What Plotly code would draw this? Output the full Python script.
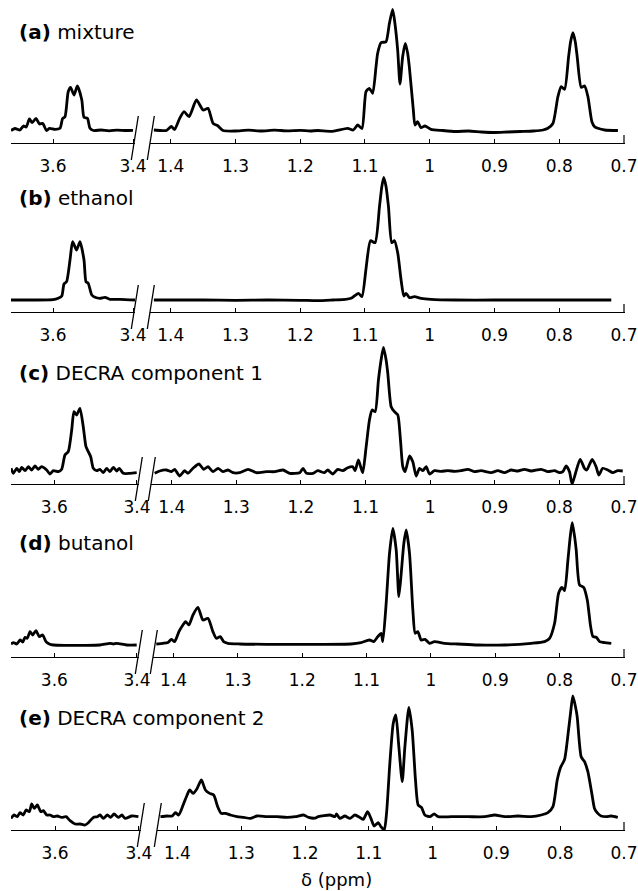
import plotly.graph_objects as go

W, H = 638, 891

# ---------------- data (chemical shift in ppm, intensity in arbitrary units, baseline = 0) -------------
a_left_ppm = [3.705, 3.695, 3.6825, 3.674, 3.667, 3.659, 3.652, 3.6425, 3.634, 3.626, 3.616, 3.609, 3.595,
              3.5825, 3.576, 3.57, 3.562, 3.556, 3.5475, 3.539, 3.528, 3.5225, 3.514, 3.5075, 3.499, 3.48,
              3.46, 3.44, 3.42, 3.40]
a_left_int = [0, 2, 0.5, 4.5, 3.5, 11.5, 7.8, 12.2, 6.5, 7.2, 0, 2.2, 1.2,
              2.2, 12, 13.8, 38.8, 43.2, 35.5, 44.5, 30.5, 13.2, 12.2, 2.2, 0, 0.5,
              -0.3, 0.3, 0, 0.2]
a_right_ppm = [1.426, 1.415, 1.4066, 1.399, 1.394, 1.386, 1.3794, 1.3717, 1.3603, 1.350, 1.3424, 1.3346,
               1.3269, 1.3192, 1.30, 1.28, 1.26, 1.24, 1.22, 1.20, 1.185, 1.173, 1.15, 1.1267, 1.118,
               1.1113, 1.1046, 1.0984, 1.0932, 1.0881, 1.0829, 1.0804, 1.0752, 1.0675, 1.0623, 1.0572,
               1.0537, 1.0495, 1.0459, 1.0418, 1.0377, 1.034, 1.0315, 1.0253, 1.0228, 1.0187, 1.0135,
               1.0074, 0.9981, 0.98, 0.96, 0.94, 0.92, 0.90, 0.88, 0.86, 0.84, 0.825, 0.8175, 0.8097,
               0.802, 0.7969, 0.7917, 0.7855, 0.7824, 0.7788, 0.7752, 0.7722, 0.766, 0.7608, 0.7556,
               0.7495, 0.7453, 0.7402, 0.7298, 0.7093]
a_right_int = [0.5, 0, 0, 4, 1, 12.4, 18.8, 13.8, 30.5, 20.5, 22.2, 7.2,
               4.5, 0, -0.5, 0.3, -0.5, 0.3, -0.3, 0.2, -0.5, 0, -0.8, 2.2, 0.5,
               5.5, 2, 38.8, 42.2, 37.2, 63.8, 77.2, 87.8, 88.8, 107, 121.2,
               107, 80.5, 46.5, 73.8, 87.2, 77, 63.8, 20.5, 5.5, 8.8, 2.8,
               4.5, 1.2, 0, -1, -0.5, -1.5, -2, -1.5, -1, -0.5, 0.5, 2.2, 7,
               33.8, 43.8, 41.2, 73.8, 88.8, 97.8, 88.8, 73.8, 43.2, 44.5, 33.8,
               8.8, 3.8, 2.2, 0.5, 0]

b_left_ppm = [3.705, 3.65, 3.60, 3.587, 3.578, 3.5725, 3.566, 3.5575, 3.551, 3.541, 3.5325, 3.5225,
              3.5175, 3.512, 3.503, 3.495, 3.4825, 3.47, 3.4575, 3.4325, 3.395]
b_left_int = [0, 0, 0.3, 1.7, 4, 16, 18.3, 40, 58.3, 50, 58.3, 40,
              18.3, 16.7, 5, 2.7, 1.7, 2.7, 0.7, 0.7, 0]
b_right_ppm = [1.426, 1.40, 1.35, 1.30, 1.25, 1.20, 1.173, 1.15, 1.13, 1.1215, 1.11, 1.1047, 1.098,
               1.0915, 1.0844, 1.0776, 1.074, 1.071, 1.0674, 1.0637, 1.0586, 1.0544, 1.0493, 1.0442,
               1.04, 1.0365, 1.0313, 1.0235, 1.0134, 0.998, 0.96, 0.90, 0.85, 0.80, 0.75, 0.7196]
b_right_int = [0, 0, 0, -0.3, 0, -0.3, -0.7, 0, 0.7, 1.7, 6.7, 3.3, 33.3,
               59.3, 57.3, 93.3, 113.3, 122.7, 113.3, 93.3, 57.3, 59.3, 46.7, 20,
               4, 6.7, 2.3, 3.3, 1.7, 0.7, 0, 0, 0, 0, 0, 0]

c_left_ppm = [3.705, 3.6994, 3.691, 3.685, 3.679, 3.671, 3.663, 3.655, 3.647, 3.639, 3.631, 3.6186,
              3.6106, 3.6026, 3.5905, 3.5822, 3.5743, 3.5663, 3.558, 3.5525, 3.546, 3.538, 3.53,
              3.5234, 3.5178, 3.512, 3.5057, 3.4975, 3.4895, 3.4815, 3.4733, 3.4653, 3.4573, 3.449,
              3.4428, 3.4331, 3.417, 3.4006]
c_left_int = [2.7, -2.3, 2.7, -0.7, 3.7, 0.3, 4.3, 1, 5, 1.7, 4.3, 1,
              -3, 0.3, -0.7, 1.7, 16, 19.3, 41, 59.3, 56, 62.7, 44.3,
              24.3, 19.3, 14.3, 2.7, 0.3, 1.7, -1.7, 2.7, -0.7, 3.7, 0,
              2.7, -2.3, -2.3, -1.7]
c_right_ppm = [1.4263, 1.4186, 1.4082, 1.4005, 1.3954, 1.3877, 1.38, 1.3748, 1.367, 1.3577, 1.3505,
               1.3438, 1.3361, 1.3283, 1.3206, 1.3128, 1.3051, 1.2947, 1.2818, 1.2689, 1.2534, 1.24,
               1.2276, 1.2173, 1.2018, 1.1967, 1.1914, 1.1812, 1.1739, 1.1636, 1.1584, 1.1507, 1.143,
               1.1352, 1.1275, 1.1197, 1.1161, 1.111, 1.1068, 1.1042, 1.099, 1.0939, 1.0898, 1.0851,
               1.08, 1.0759, 1.0722, 1.0681, 1.0655, 1.0603, 1.0552, 1.05, 1.0459, 1.0423, 1.0387,
               1.0319, 1.0268, 1.0216, 1.0164, 1.0113, 1.0061, 1.0009, 0.9932, 0.9829, 0.9726, 0.962,
               0.952, 0.9416, 0.931, 0.921, 0.9055, 0.8952, 0.8849, 0.8746, 0.8642, 0.8539, 0.8436,
               0.8281, 0.8177, 0.8074, 0.7997, 0.7946, 0.7894, 0.7843, 0.7802, 0.775, 0.7678, 0.7611,
               0.7575, 0.7492, 0.7431, 0.739, 0.7328, 0.725, 0.7173, 0.7096, 0.7019]
c_right_int = [-2.3, 0, 1, -0.7, 1.7, -5, 0.3, -2.3, 2.7, 7, 1.7,
               4.3, -0.7, 2.7, -0.7, 1, -1.7, -1.7, 1.7, -1.7, -0.7, -0.7,
               1, -2.3, -1.7, 2.7, -2.3, -2.3, 0.3, -1.7, 1, -3, 1.7,
               0.3, 3.3, 4.3, 0.3, 11, 2.7, -1.7, 24.3, 51, 61, 59.3,
               91, 111, 123.7, 111, 97.7, 64.3, 59.3, 56, 31, 4.3, -0.7,
               15, 9.3, -5, 2.7, 0.3, 4.3, -3, 0.3, -0.3, 0.3, -0.3,
               0.3, 1.7, -0.7, 0.3, -1.7, 0.3, -1.7, 1, 0, 1.7, 0,
               1.7, -0.7, 0.3, -1.7, -0.7, 5, -0.7, -13, -2.3, 11.7, 2.7,
               1, 11.7, 4.3, -4, 2.7, 1, -1.7, 0.3, 0]

d_left_ppm = [3.705, 3.699, 3.691, 3.683, 3.6767, 3.671, 3.6655, 3.659, 3.6525, 3.6445, 3.6365, 3.6282,
              3.6203, 3.6123, 3.602, 3.57, 3.53, 3.4895, 3.4653, 3.457, 3.449, 3.425, 3.4006]
d_left_int = [0.3, 1.7, 0.3, 4.3, 2.3, 7, 6, 12.7, 9.3, 13.7, 7.7, 9.3,
              2.7, 0.3, -0.7, -1, -1, -0.7, 1, 0.3, 1, -0.7, -0.7]
d_right_ppm = [1.4269, 1.4166, 1.4088, 1.4035, 1.3984, 1.3917, 1.3855, 1.3813, 1.3762, 1.3699, 1.3622,
               1.3544, 1.3466, 1.3389, 1.3336, 1.3274, 1.3222, 1.3155, 1.2973, 1.2558, 1.204, 1.176,
               1.1241, 1.1086, 1.0956, 1.0888, 1.0826, 1.0774, 1.0748, 1.0696, 1.0644, 1.0592, 1.054,
               1.0499, 1.0462, 1.0421, 1.0385, 1.0333, 1.0281, 1.0245, 1.0204, 1.0152, 1.009, 1.0022,
               0.9945, 0.979, 0.9582, 0.9271, 0.8856, 0.8441, 0.8234, 0.8156, 0.8078, 0.8016, 0.7964,
               0.7923, 0.7871, 0.7835, 0.7804, 0.7767, 0.7742, 0.769, 0.7627, 0.757, 0.7518, 0.7482,
               0.743, 0.7379, 0.7301, 0.7197]
d_right_int = [0.3, 1, 1.7, 5, 2.7, 12.7, 19.3, 22.7, 19.3, 29.3, 37,
               24.3, 26, 12.7, 6, 7.7, 2.7, 1, 0.3, 0, 0, 0,
               0.3, 1.7, 4.3, 2.7, 7.7, 11, 2.7, 41, 91, 116, 94.3,
               47.7, 71, 101, 114.3, 91, 34.3, 11, 12.7, 4.3, 5, 1,
               2.7, 1, 0.3, -0.7, -0.7, 1, 2.7, 6, 21, 51, 57,
               53.7, 84.3, 107.7, 121.7, 107.7, 94.3, 59.3, 57, 44.3, 17.7, 7.7,
               7, 2.7, 1.7, 1]

e_left_ppm = [3.705, 3.6978, 3.69, 3.6835, 3.6756, 3.6692, 3.6613, 3.6556, 3.6494, 3.6422, 3.6341,
              3.6279, 3.6198, 3.612, 3.6041, 3.5945, 3.584, 3.5737, 3.5642, 3.5523, 3.5403, 3.5284,
              3.5205, 3.5086, 3.499, 3.4926, 3.4847, 3.4752, 3.4671, 3.4592, 3.449, 3.4408, 3.4329,
              3.4169, 3.4012]
e_left_int = [-1.7, 1.7, 0, 4, 1.7, 6.7, 5, 12.7, 8.3, 11.7, 5,
              6, 1.7, 1.7, 0, 0.7, -0.7, 0, -4, -7.3, -7.3, -8.3,
              -6, -0.7, 0, 1.7, -1.7, 1.7, -0.7, 2.7, -0.7, 1.7, -1.7,
              0.7, 0]
e_right_ppm = [1.4266, 1.4161, 1.4083, 1.4031, 1.3979, 1.391, 1.3848, 1.3807, 1.3754, 1.3691, 1.3624,
               1.3561, 1.3494, 1.3431, 1.3369, 1.3315, 1.3248, 1.317, 1.3065, 1.2961, 1.2857, 1.2752,
               1.2595, 1.2438, 1.2282, 1.2152, 1.2022, 1.1944, 1.185, 1.1792, 1.1609, 1.1531, 1.1505,
               1.1453, 1.1375, 1.1296, 1.1218, 1.114, 1.1087, 1.1019, 1.0967, 1.0915, 1.0852, 1.081,
               1.0758, 1.0722, 1.067, 1.0617, 1.0576, 1.0529, 1.0476, 1.0434, 1.0372, 1.032, 1.0268,
               1.0226, 1.0174, 1.0122, 1.0043, 0.9975, 0.9913, 0.9704, 0.9443, 0.9182, 0.9026, 0.887,
               0.8661, 0.8453, 0.8296, 0.8192, 0.8113, 0.8046, 0.7994, 0.7931, 0.7869, 0.7835, 0.7801,
               0.776, 0.7733, 0.7671, 0.7618, 0.7566, 0.7504, 0.7462, 0.741, 0.7358, 0.7279, 0.7201,
               0.7097]
e_right_int = [0, 0.7, 0.7, 4, 1.7, 11.7, 21.7, 26.7, 23.3, 28.3, 36.7,
               26.7, 23.3, 21.7, 10, 3.3, 3.3, 1.7, 0, -0.7, -1.7, 0.7,
               0, 0, -0.7, 0, 1.7, -0.7, -1.5, 0, 1.7, 0, 2.7,
               -1.7, 0.7, -1.7, 1.7, -0.7, -2.7, 5, -1.7, -9.3, -6, -10,
               -13.3, 3.3, 53.3, 93.3, 101.7, 70, 35, 70, 109.3, 86.7, 36.7,
               11.7, 9.3, 1.7, 0, 2.7, 0, 0, 0, 0, 1.7, 0,
               0.7, 0, 1.7, 4, 10, 36.7, 49.3, 57.3, 86.7, 105, 120.7,
               110, 100, 60, 55, 45, 23.3, 8.3, 3.3, 0.7, 0, 0.7,
               -0.7]

panel_titles = ["<b>(a)</b> mixture", "<b>(b)</b> ethanol", "<b>(c)</b> DECRA component 1",
                "<b>(d)</b> butanol", "<b>(e)</b> DECRA component 2"]
left_tickvals = [3.6, 3.4]
left_ticktext = ["3.6", "3.4"]
right_tickvals = [1.4, 1.3, 1.2, 1.1, 1.0, 0.9, 0.8, 0.7]
right_ticktext = ["1.4", "1.3", "1.2", "1.1", "1", "0.9", "0.8", "0.7"]
x_title = "δ (ppm)"

# ---------------- layout geometry (window pixels) ----------------
axis_y = [143, 312, 484, 657, 830]
base_y = [130.5, 300, 471, 644.3, 816.7]
title_y = [32, 198, 373, 543, 718]
left_end = [135, 135, 139, 139, 141]
right_start = [150, 150, 151, 153, 157]
left_start = 11
right_end = 624.6
panel_h = 140
LEFT_RANGE = [3.705, 3.395]
RIGHT_RANGE = [1.432, 0.699]

FONT = "DejaVu Sans"

panels = [
    (a_left_ppm, a_left_int, a_right_ppm, a_right_int),
    (b_left_ppm, b_left_int, b_right_ppm, b_right_int),
    (c_left_ppm, c_left_int, c_right_ppm, c_right_int),
    (d_left_ppm, d_left_int, d_right_ppm, d_right_int),
    (e_left_ppm, e_left_int, e_right_ppm, e_right_int),
]


def px(x):
    return x / W


def py(y):
    return min(1.0, max(0.0, 1 - y / H))


fig = go.Figure()
layout = {}
shapes = []
annotations = []
line_style = dict(color="black", width=2.8, shape="spline", smoothing=0.6)

for i, (lp, li, rp, ri) in enumerate(panels):
    nl, nr, ny = 2 * i + 1, 2 * i + 2, i + 1
    xl = "x" if nl == 1 else f"x{nl}"
    xr = f"x{nr}"
    yy = "y" if ny == 1 else f"y{ny}"
    fig.add_trace(go.Scatter(x=lp, y=li, xaxis=xl, yaxis=yy, mode="lines", line=line_style,
                             hoverinfo="skip", showlegend=False))
    fig.add_trace(go.Scatter(x=rp, y=ri, xaxis=xr, yaxis=yy, mode="lines", line=line_style,
                             hoverinfo="skip", showlegend=False))
    off = axis_y[i] - base_y[i]
    top = max(axis_y[i] - panel_h, 0)
    ydom = [py(axis_y[i]), py(top)]
    common = dict(showline=True, linecolor="black", linewidth=1.3, ticks="inside", ticklen=4,
                  tickwidth=1, tickcolor="black", showgrid=False, zeroline=False,
                  ticklabelstandoff=7, automargin=False,
                  tickfont=dict(family=FONT, size=17, color="black"), anchor=yy, fixedrange=True)
    layout["xaxis" if nl == 1 else f"xaxis{nl}"] = dict(
        domain=[px(left_start), px(left_end[i])], range=LEFT_RANGE,
        tickmode="array", tickvals=left_tickvals, ticktext=left_ticktext, **common)
    layout[f"xaxis{nr}"] = dict(
        domain=[px(right_start[i]), px(right_end)], range=RIGHT_RANGE,
        tickmode="array", tickvals=right_tickvals, ticktext=right_ticktext, **common)
    layout["yaxis" if ny == 1 else f"yaxis{ny}"] = dict(
        domain=ydom, range=[-off, (axis_y[i] - top) - off], visible=False, anchor=xl,
        automargin=False, fixedrange=True)

    # axis-break slashes
    for X in (left_end[i] - 1, right_start[i]):
        shapes.append(dict(type="line", xref="paper", yref="paper",
                           x0=px(X - 2.7), y0=py(axis_y[i] + 17),
                           x1=px(X + 4.3), y1=py(axis_y[i] - 27),
                           line=dict(color="black", width=1.3)))
    # taller closing tick at the right end of each axis
    shapes.append(dict(type="line", xref="paper", yref="paper",
                       x0=px(right_end - 0.6), y0=py(axis_y[i]),
                       x1=px(right_end - 0.6), y1=py(axis_y[i] - 8),
                       line=dict(color="black", width=1.2)))

    annotations.append(dict(text=panel_titles[i], xref="paper", yref="paper",
                            x=px(17), y=py(title_y[i]), xanchor="left", yanchor="middle",
                            showarrow=False, font=dict(family=FONT, size=20, color="black")))

annotations.append(dict(text=x_title, xref="paper", yref="paper", x=px(336), y=0,
                        xanchor="center", yanchor="bottom", showarrow=False, borderpad=0,
                        font=dict(family=FONT, size=18, color="black")))

fig.update_layout(**layout)
fig.update_layout(width=W, height=H, margin=dict(l=0, r=0, t=0, b=0, autoexpand=False),
                  paper_bgcolor="white", plot_bgcolor="white",
                  shapes=shapes, annotations=annotations, showlegend=False)

# remove the page's default body margin so the figure fills the window exactly
fig.write_html("out.html",
               config={"displayModeBar": False},
               post_script="document.documentElement.style.margin='0';"
                           "document.body.style.margin='0';"
                           "document.body.style.overflow='hidden';"
                           "document.documentElement.style.overflow='hidden';")
